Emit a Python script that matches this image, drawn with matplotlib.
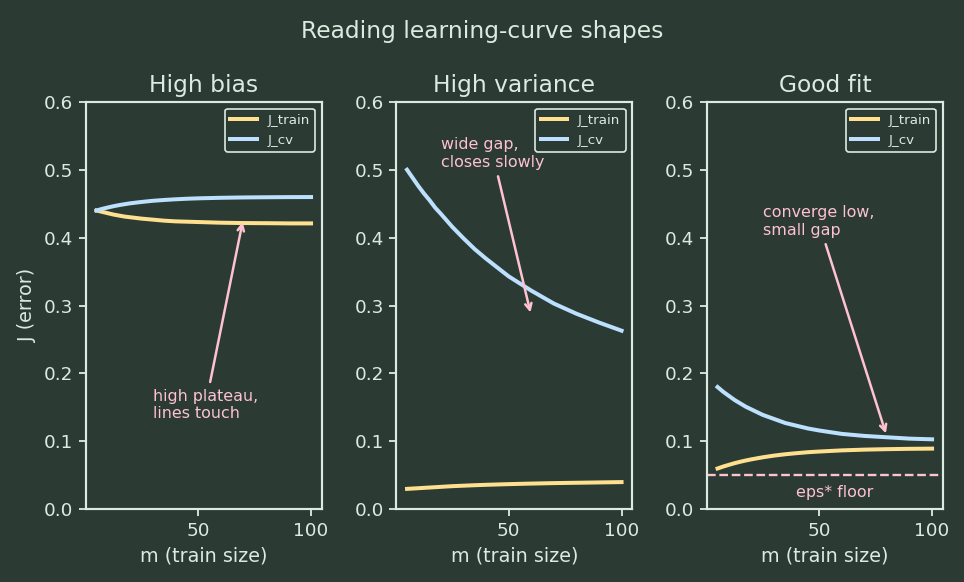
import matplotlib
matplotlib.use("Agg")
from matplotlib import pyplot as plt

BG = '#2b3b34'
FG = '#dcebe0'
TRAIN_C = '#ffe08f'
CV_C = '#bde0fe'
NOTE_C = '#ffc2d1'

m = [5, 7.5, 10, 12.5, 15, 17.5, 20, 25, 30, 35, 40, 45, 50, 60, 70, 80, 90, 100]

bias_train = [0.440, 0.438, 0.436, 0.434, 0.4325, 0.431, 0.430, 0.428, 0.4265, 0.425,
              0.424, 0.4235, 0.423, 0.422, 0.4215, 0.4213, 0.421, 0.421]
bias_cv = [0.440, 0.4424, 0.4444, 0.4463, 0.4479, 0.4493, 0.4506, 0.4526, 0.4543, 0.4555,
           0.4565, 0.4573, 0.4579, 0.4587, 0.4592, 0.4595, 0.4597, 0.4598]

var_train = [0.030, 0.0305, 0.031, 0.0315, 0.032, 0.0325, 0.033, 0.034, 0.0347, 0.0354,
             0.036, 0.0365, 0.037, 0.0378, 0.0385, 0.039, 0.0395, 0.040]
var_cv = [0.500, 0.488, 0.476, 0.465, 0.455, 0.444, 0.435, 0.416, 0.399, 0.383,
          0.369, 0.356, 0.343, 0.322, 0.303, 0.288, 0.275, 0.263]

good_train = [0.060, 0.0629, 0.0654, 0.0678, 0.0699, 0.0718, 0.0735, 0.0765, 0.079, 0.081,
              0.0826, 0.084, 0.085, 0.0867, 0.0878, 0.0885, 0.089, 0.0893]
good_cv = [0.180, 0.173, 0.167, 0.161, 0.156, 0.151, 0.147, 0.139, 0.133, 0.127,
           0.123, 0.119, 0.116, 0.111, 0.108, 0.106, 0.104, 0.103]

titles = ['High bias', 'High variance', 'Good fit']
notes = ['high plateau,\nlines touch', 'wide gap,\ncloses slowly', 'converge low,\nsmall gap']
note_text_pos = [(30, 0.13), (20, 0.50), (25, 0.40)]
note_arrow_pos = [(70, 0.428), (60, 0.285), (80, 0.107)]
eps_floor = 0.05

plt.rcParams['text.color'] = FG
plt.rcParams['axes.labelcolor'] = FG
plt.rcParams['xtick.color'] = FG
plt.rcParams['ytick.color'] = FG

fig, axes = plt.subplots(1, 3, figsize=(964 / 120, 582 / 120), dpi=120)
fig.patch.set_facecolor(BG)
fig.subplots_adjust(left=0.089, right=0.978, top=0.825, bottom=0.125, wspace=0.316)

series = [(bias_train, bias_cv), (var_train, var_cv), (good_train, good_cv)]
for i, ax in enumerate(axes):
    ax.set_facecolor(BG)
    tr, cv = series[i]
    ax.plot(m, tr, color=TRAIN_C, lw=2.4, label='J_train')
    ax.plot(m, cv, color=CV_C, lw=2.4, label='J_cv')
    ax.set_ylim(0, 0.6)
    ax.set_xticks([50, 100])
    ax.set_title(titles[i], fontsize=14, color=FG)
    ax.set_xlabel('m (train size)', fontsize=11.5)
    ax.tick_params(labelsize=11, width=1.1, length=4)
    for s in ax.spines.values():
        s.set_color(FG)
        s.set_linewidth(1.3)
    leg = ax.legend(loc='upper right', fontsize=8, facecolor=BG, edgecolor=FG,
                    framealpha=1)
    for t in leg.get_texts():
        t.set_color(FG)
    ax.annotate(notes[i], xy=note_arrow_pos[i], xytext=note_text_pos[i],
                color=NOTE_C, fontsize=9.5, va='bottom',
                arrowprops=dict(arrowstyle='->', color=NOTE_C, lw=1.5))

axes[0].set_ylabel('J (error)', fontsize=11.5)
axes[2].axhline(eps_floor, color=NOTE_C, ls='--', lw=1.4)
axes[2].text(57, 0.024, 'eps* floor', color=NOTE_C, fontsize=9.5, ha='center', va='center')

fig.suptitle('Reading learning-curve shapes', fontsize=14, color=FG, y=0.965)
fig.savefig('out.png', facecolor=BG)
